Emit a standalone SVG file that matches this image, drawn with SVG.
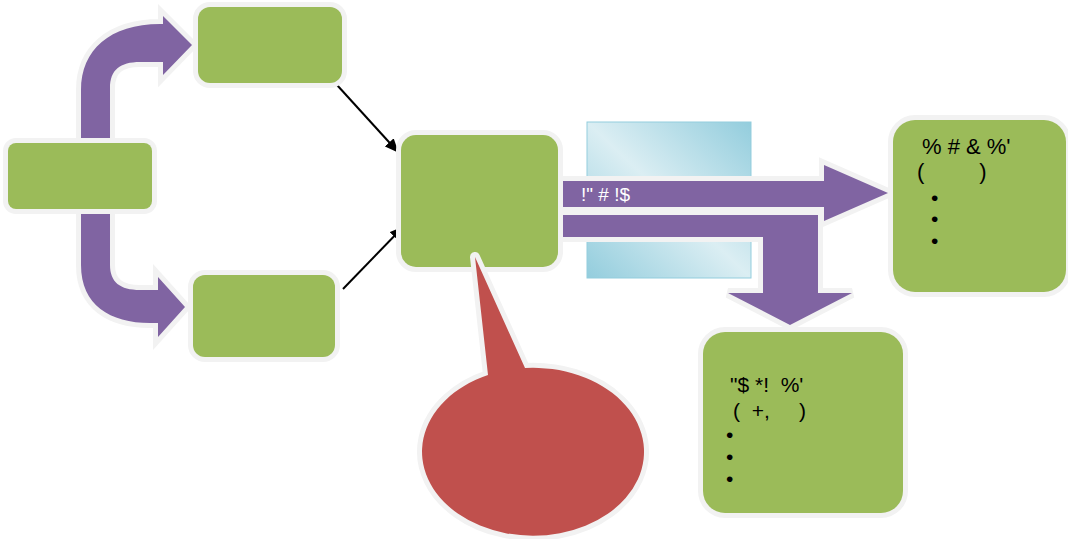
<svg xmlns="http://www.w3.org/2000/svg" width="1068" height="539" viewBox="0 0 1068 539">
<defs>
<linearGradient id="blueGrad" x1="1" y1="0" x2="0" y2="1">
<stop offset="0" stop-color="#93cddd"/>
<stop offset="0.5" stop-color="#dbeef3"/>
<stop offset="1" stop-color="#93cddd"/>
</linearGradient>
<marker id="arrowBlack" viewBox="0 0 14 12" refX="13" refY="6" markerWidth="14" markerHeight="12" orient="auto" markerUnits="userSpaceOnUse">
<path d="M0,0 L14,6 L0,12 Z" fill="#000"/>
</marker>
<style>
.node{fill:#9bbb59;stroke:#f2f2f2;stroke-width:10;paint-order:stroke fill;}
.purple{fill:#8064a2;stroke:#f2f2f2;stroke-width:10;stroke-linejoin:miter;paint-order:stroke fill;}
.conn{stroke:#000;stroke-width:2;fill:none;marker-end:url(#arrowBlack);}
.callout{fill:#c0504d;stroke:#f2f2f2;stroke-width:10;stroke-linejoin:round;paint-order:stroke fill;}
.txt{font-family:"Liberation Sans",Arial,sans-serif;font-size:21px;fill:#000;white-space:pre;}
.txt22{font-family:"Liberation Sans",Arial,sans-serif;font-size:22px;fill:#000;white-space:pre;}
.wtxt{font-family:"Liberation Sans",Arial,sans-serif;font-size:19px;fill:#ffffff;white-space:pre;}
</style>
</defs>
<rect width="1068" height="539" fill="#ffffff"/>

<g id="connectors">
<path class="purple" d="M81,150 L81,90 C81,50 110,24 160,24 L163,24 L163,16 L192,45 L163,75 L163,62 L140,62 C120,62 110,70 110,88 L110,150 Z"/>
<path class="purple" d="M81,200 L81,265 C81,305 110,323 150,323 L158,323 L158,337 L185,307 L158,277 L158,290 L140,290 C120,290 110,282 110,265 L110,200 Z"/>
<line class="conn" x1="337" y1="85" x2="398" y2="152"/>
<line class="conn" x1="343" y1="289" x2="403" y2="227"/>
</g>

<g id="node-a"><rect class="node" x="8" y="143" width="144" height="66" rx="8"/></g>
<g id="node-b"><rect class="node" x="198" y="7" width="144" height="76" rx="12"/></g>
<g id="node-c"><rect class="node" x="193" y="275" width="142" height="82" rx="12"/></g>

<g id="band"><rect x="587" y="122" width="164" height="156" fill="url(#blueGrad)" stroke="#93cddd" stroke-width="1"/></g>

<g id="flow-arrows">
<polygon class="purple" points="550,181 824,181 824,165 888,193 824,221 824,207 550,207"/>
<polygon class="purple" points="550,215 818,215 818,293 852,293 790,325 728,293 763,293 763,237 550,237"/>
<text class="wtxt" x="581" y="201">!" # !$</text>
</g>

<g id="node-d"><rect class="node" x="401" y="135" width="157" height="132" rx="15"/></g>

<g id="callout"><path class="callout" d="M525,368 A111,84 0 1 1 488,375 L475,257 Z"/></g>

<g id="node-e">
<rect class="node" x="893" y="120" width="173" height="172" rx="22"/>
<text class="txt22" x="922" y="154">% # &amp; %'</text>
<text class="txt22" x="917" y="179">(         )</text>
<text class="txt" x="931" y="205">•</text>
<text class="txt" x="931" y="226">•</text>
<text class="txt" x="931" y="248">•</text>
</g>

<g id="node-f">
<rect class="node" x="703" y="332" width="200" height="181" rx="22"/>
<text class="txt" x="730" y="392">"$ *!  %'</text>
<text class="txt" x="733" y="418">(  +,     )</text>
<text class="txt" x="726" y="442">•</text>
<text class="txt" x="726" y="464">•</text>
<text class="txt" x="726" y="486">•</text>
</g>
</svg>
